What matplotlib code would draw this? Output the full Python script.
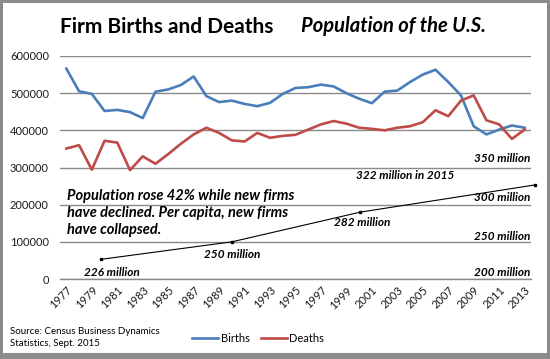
import matplotlib
matplotlib.use("Agg")
import matplotlib.pyplot as plt
from matplotlib.patches import Rectangle

years = list(range(1977, 2014))
births = [566000, 505000, 498000, 452000, 455000, 449000, 433000, 504000, 510000,
          522000, 545000, 492000, 476000, 480000, 471000, 465000, 474000, 498000,
          514000, 516000, 523000, 518000, 500000, 485000, 473000, 504000, 507000,
          530000, 550000, 563000, 530000, 494000, 411000, 389000, 402000, 413000, 407000]
deaths = [351000, 360000, 294000, 372000, 367000, 293000, 330000, 310000, 336000,
          364000, 389000, 407000, 393000, 373000, 370000, 393000, 380000, 385000,
          388000, 402000, 416000, 425000, 418000, 407000, 404000, 400000, 407000,
          411000, 422000, 454000, 438000, 480000, 494000, 427000, 416000, 377000, 402000]
# population line (millions), positions as drawn in the chart
pop_x = [1979.7, 1990.0, 2000.1, 2013.8]
pop_millions = [226.4, 250.0, 290.0, 326.5]
pop_labels = ["226 million", "250 million", "282 million", "322 million in 2015"]
right_scale = ["200 million", "250 million", "300 million", "350 million"]
yticks = [0, 100000, 200000, 300000, 400000, 500000, 600000]

W, H = 550, 359
fig = plt.figure(figsize=(W / 100, H / 100), dpi=100)
plt.rcParams['font.family'] = ['Lato', 'DejaVu Sans']

def fx(px):
    return px / W

def fy(py):
    return 1 - py / H

# frame
fig.patches.append(Rectangle((0, 0), 1, 1, transform=fig.transFigure,
                             facecolor="#8c8c8c", edgecolor="none", zorder=-10))
fig.patches.append(Rectangle((fx(3), fy(353)), fx(547) - fx(3), fy(3) - fy(353),
                             transform=fig.transFigure, facecolor="white",
                             edgecolor="none", zorder=-9))

ax = fig.add_axes([fx(60), fy(279), fx(531) - fx(60), fy(56) - fy(279)])
ax.set_facecolor("none")
blue = "#4A7EBB"
red = "#BE4B48"
ax.plot(years, births, color=blue, lw=1.9, label="Births", solid_joinstyle="round")
ax.plot(years, deaths, color=red, lw=1.9, label="Deaths", solid_joinstyle="round")

pop_chart = [(p - 200) / 50 * 100000 for p in pop_millions]
ax.plot(pop_x, pop_chart, color="black", lw=0.8, marker="s", ms=2.0, clip_on=False)

ax.set_xlim(1976.5, 2013.5)
ax.set_ylim(0, 600000)
ax.set_yticks(yticks)
ax.set_yticklabels([str(v) for v in yticks], fontsize=8, color="#1a1a1a")
ax.set_xticks(years[::2])
ax.set_xticklabels([str(y) for y in years[::2]], rotation=45, ha="right",
                   rotation_mode="anchor", fontsize=8, color="#1a1a1a")
ax.tick_params(axis="both", length=0)
ax.tick_params(axis="y", pad=8)
ax.tick_params(axis="x", pad=4)
ax.grid(axis="y", color="#8a8a8a", lw=1.0)
ax.set_axisbelow(True)
for s in ["top", "right", "left"]:
    ax.spines[s].set_visible(False)
ax.spines["bottom"].set_color("#8a8a8a")
ax.spines["bottom"].set_linewidth(1.0)

# titles
fig.text(fx(167), fy(27), "Firm Births and Deaths", fontsize=15, fontweight="bold",
         ha="center", va="center", color="black")
fig.text(fx(393), fy(26), "Population of the U.S.", fontsize=14.5, fontweight="bold",
         style="italic", ha="center", va="center", color="black")

# annotation
fig.text(fx(67), fy(213), "Population rose 42% while new firms\nhave declined. Per capita, new firms\nhave collapsed.",
         fontsize=10.5, fontweight="bold", style="italic", ha="left", va="center",
         linespacing=1.25, color="black")

# population labels
lab_pos = [(112, 272), (232, 255), (362, 222), (405, 176)]
for (x, y), t in zip(lab_pos, pop_labels):
    fig.text(fx(x), fy(y), t, fontsize=8.5, fontweight="bold", style="italic",
             ha="center", va="center", color="black")
right_y = [272, 236, 197, 158]
for y, t in zip(right_y, right_scale):
    fig.text(fx(530), fy(y), t, fontsize=8.5, fontweight="bold", style="italic",
             ha="right", va="center", color="black")

# source
fig.text(fx(10), fy(331), "Source: Census Business Dynamics", fontsize=7,
         ha="left", va="center", color="black")
fig.text(fx(10), fy(344), "Statistics, Sept. 2015", fontsize=7,
         ha="left", va="center", color="black")

# legend
h, l = ax.get_legend_handles_labels()
fig.legend(h, l, loc="center", bbox_to_anchor=(fx(258), fy(338)), ncol=2,
           frameon=False, fontsize=8, handlelength=2.4, handletextpad=0.2,
           columnspacing=1.0)

fig.savefig("out.png", dpi=100)
